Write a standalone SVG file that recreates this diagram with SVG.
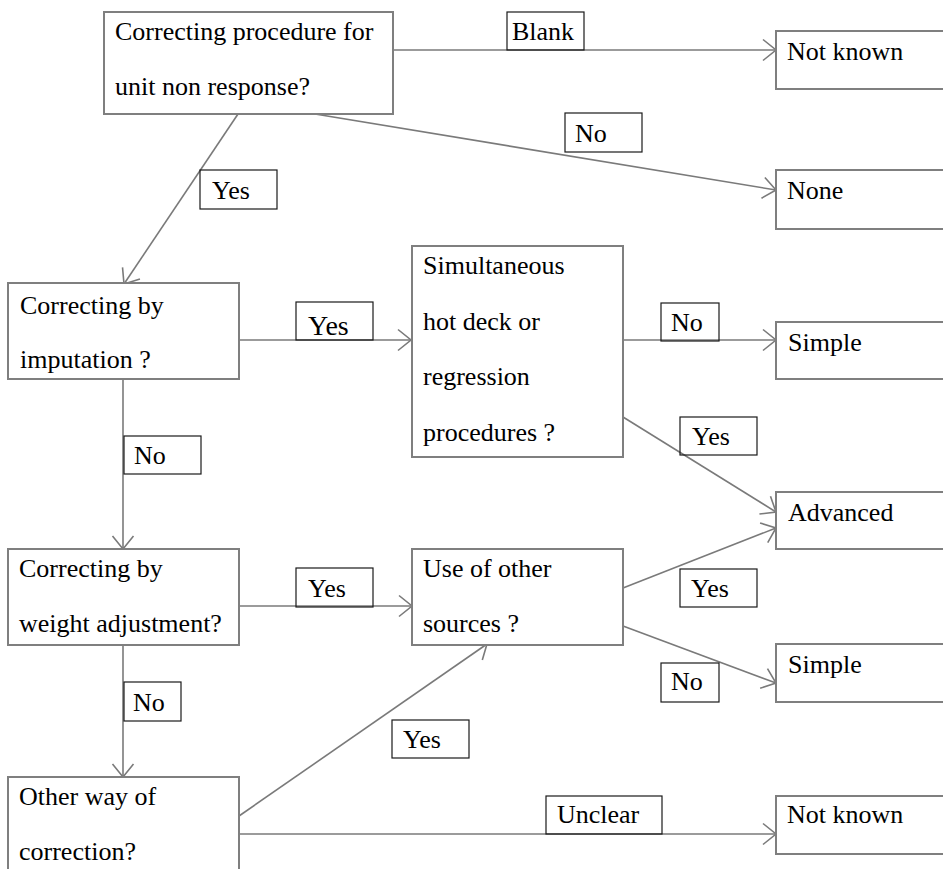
<svg xmlns="http://www.w3.org/2000/svg" width="943" height="869" viewBox="0 0 943 869">
  <style>
    .node rect { fill: #ffffff; stroke: #7f7f7f; stroke-width: 2; }
    .node text, .label text { font-family: "Liberation Serif", "Times New Roman", serif; font-size: 26px; fill: #000000; }
    .edges line { stroke: #7a7a7a; stroke-width: 1.6; fill: none; marker-end: url(#arrow); }
    .label rect { fill: none; stroke: #1a1a1a; stroke-width: 1.2; }
  </style>
  <defs>
    <marker id="arrow" markerUnits="userSpaceOnUse" markerWidth="30" markerHeight="30" viewBox="-15 -15 30 30" refX="0" refY="0" orient="auto">
      <path d="M-13,-10.5 L0,0 L-13,10.5" fill="none" stroke="#7a7a7a" stroke-width="1.6"/>
    </marker>
  </defs>
  <rect width="943" height="869" fill="#ffffff"/>

  <!-- connectors -->
  <g id="edges" class="edges">
    <line x1="393" y1="50" x2="776" y2="50"/>
    <line x1="315" y1="114" x2="776" y2="190"/>
    <line x1="238" y1="114" x2="124" y2="284"/>
    <line x1="239" y1="340" x2="411" y2="340"/>
    <line x1="623" y1="340" x2="776" y2="340"/>
    <line x1="623" y1="417" x2="776" y2="512"/>
    <line x1="123" y1="379" x2="123" y2="549"/>
    <line x1="239" y1="606" x2="412" y2="606"/>
    <line x1="623" y1="588" x2="776" y2="528"/>
    <line x1="623" y1="626" x2="776" y2="683"/>
    <line x1="123" y1="645" x2="123" y2="777"/>
    <line x1="239" y1="816" x2="487" y2="644"/>
    <line x1="239" y1="834" x2="776" y2="834"/>
  </g>

  <!-- nodes -->
  <g id="n-unit" class="node">
    <rect x="104" y="12" width="289" height="102"/>
    <text x="115" y="40">Correcting procedure for</text>
    <text x="115" y="95">unit non response?</text>
  </g>
  <g id="n-notknown1" class="node">
    <rect x="776" y="31" width="200" height="58"/>
    <text x="787" y="60">Not known</text>
  </g>
  <g id="n-none" class="node">
    <rect x="776" y="170" width="200" height="59"/>
    <text x="787" y="199">None</text>
  </g>
  <g id="n-imputation" class="node">
    <rect x="8" y="283" width="231" height="96"/>
    <text x="20" y="314">Correcting by</text>
    <text x="20" y="368">imputation ?</text>
  </g>
  <g id="n-simultaneous" class="node">
    <rect x="412" y="246" width="211" height="211"/>
    <text x="423" y="274">Simultaneous</text>
    <text x="423" y="330">hot deck or</text>
    <text x="423" y="385">regression</text>
    <text x="423" y="441">procedures ?</text>
  </g>
  <g id="n-simple1" class="node">
    <rect x="776" y="322" width="200" height="57"/>
    <text x="788" y="351">Simple</text>
  </g>
  <g id="n-advanced" class="node">
    <rect x="776" y="492" width="200" height="57"/>
    <text x="788" y="521">Advanced</text>
  </g>
  <g id="n-weight" class="node">
    <rect x="8" y="549" width="231" height="96"/>
    <text x="19" y="577">Correcting by</text>
    <text x="19" y="632">weight adjustment?</text>
  </g>
  <g id="n-sources" class="node">
    <rect x="412" y="549" width="211" height="96"/>
    <text x="423" y="577">Use of other</text>
    <text x="423" y="632">sources ?</text>
  </g>
  <g id="n-simple2" class="node">
    <rect x="776" y="644" width="200" height="58"/>
    <text x="788" y="673">Simple</text>
  </g>
  <g id="n-other" class="node">
    <rect x="8" y="777" width="231" height="120"/>
    <text x="19" y="805">Other way of</text>
    <text x="19" y="860">correction?</text>
  </g>
  <g id="n-notknown2" class="node">
    <rect x="776" y="796" width="200" height="58"/>
    <text x="787" y="823">Not known</text>
  </g>

  <!-- edge labels -->
  <g id="l-blank" class="label"><rect x="507" y="12" width="77" height="38"/><text x="512" y="40">Blank</text></g>
  <g id="l-no1" class="label"><rect x="565" y="113" width="77" height="39"/><text x="575" y="142">No</text></g>
  <g id="l-yes1" class="label"><rect x="200" y="170" width="77" height="39"/><text x="212" y="199">Yes</text></g>
  <g id="l-yes2" class="label"><rect x="296" y="302" width="77" height="38"/><text x="308" y="335" style="font-size:28px">Yes</text></g>
  <g id="l-no2" class="label"><rect x="661" y="303" width="58" height="38"/><text x="671" y="331">No</text></g>
  <g id="l-yes3" class="label"><rect x="680" y="417" width="77" height="38"/><text x="692" y="445">Yes</text></g>
  <g id="l-no3" class="label"><rect x="124" y="436" width="77" height="38"/><text x="134" y="464">No</text></g>
  <g id="l-yes4" class="label"><rect x="296" y="568" width="77" height="39"/><text x="308" y="597">Yes</text></g>
  <g id="l-yes5" class="label"><rect x="680" y="569" width="77" height="38"/><text x="691" y="597">Yes</text></g>
  <g id="l-no4" class="label"><rect x="661" y="663" width="58" height="39"/><text x="671" y="690">No</text></g>
  <g id="l-no5" class="label"><rect x="124" y="682" width="57" height="39"/><text x="133" y="711">No</text></g>
  <g id="l-yes6" class="label"><rect x="392" y="720" width="77" height="38"/><text x="403" y="748">Yes</text></g>
  <g id="l-unclear" class="label"><rect x="546" y="796" width="116" height="38"/><text x="557" y="823">Unclear</text></g>
</svg>
